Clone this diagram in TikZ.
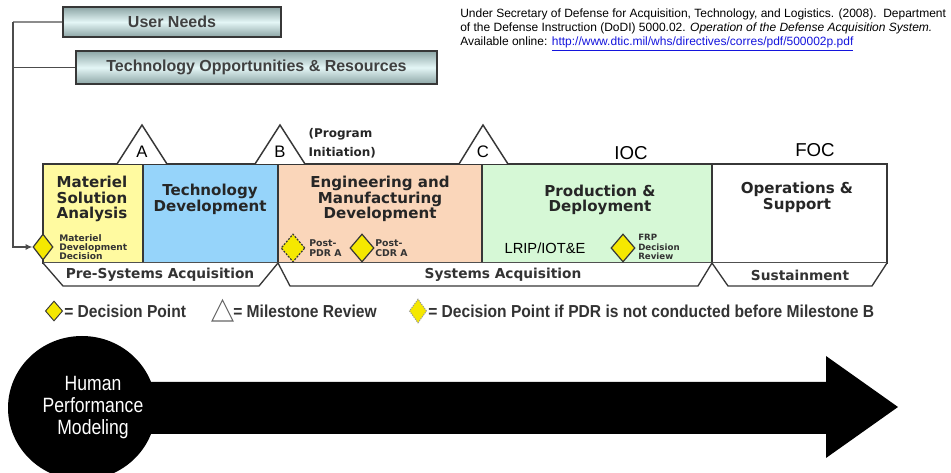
\documentclass[tikz,border=0pt]{standalone}
\usepackage{fontspec}
\setmainfont{Liberation Sans}
\newfontfamily\phasefont{DejaVu Sans}
\newfontfamily\narrowsans{Liberation Sans}[FakeStretch=0.85]
\newfontfamily\keyfont{Liberation Sans}[FakeStretch=0.9]
\usetikzlibrary{arrows.meta,positioning,shapes.geometric,calc}

\definecolor{edgegray}{RGB}{55,55,55}
\definecolor{needsteal}{RGB}{140,165,165}
\definecolor{needslight}{RGB}{228,246,246}
\definecolor{msayellow}{RGB}{255,250,160}
\definecolor{tdblue}{RGB}{150,212,250}
\definecolor{emdpeach}{RGB}{250,214,186}
\definecolor{pdgreen}{RGB}{214,248,214}
\definecolor{dpyellow}{RGB}{245,232,0}
\definecolor{linkblue}{RGB}{20,20,220}

\begin{document}
\begin{tikzpicture}[x=0.75pt, y=-0.75pt,
  needbox/.style={draw=edgegray, line width=1.5pt, top color=needsteal, bottom color=needsteal,
    middle color=needslight, font=\bfseries\fontsize{12}{14}\selectfont, text=black!75, inner sep=0pt},
  phase/.style={draw=edgegray, line width=1.2pt},
  phasetext/.style={font=\phasefont\bfseries\fontsize{11.3}{11.8}\selectfont, text=black!85, align=center},
  era/.style={draw=edgegray, line width=1pt, fill=white},
  eratext/.style={font=\phasefont\bfseries\fontsize{10.3}{12}\selectfont, text=black!80},
  decision/.style={diamond, draw=edgegray, line width=0.9pt, fill=dpyellow, inner sep=0pt,
    minimum width=18pt, minimum height=21pt},
  note/.style={font=\phasefont\bfseries\fontsize{7}{7.5}\selectfont, text=black!80, align=left,
    anchor=west, inner sep=0pt},
  milestone/.style={draw=edgegray, line width=1.1pt, fill=white},
  mark label/.style={font=\fontsize{12.5}{14}\selectfont},
  keytext/.style={font=\keyfont\bfseries\fontsize{13}{15}\selectfont, text=black!80, inner sep=0pt},
  feed/.style={draw=black!70, line width=1pt},
]
\useasboundingbox (0,0) rectangle (951,473);

% Inputs feeding the first decision
\node[needbox, minimum width=163pt, minimum height=22.5pt] (needs) at (172,22) {User Needs};
\node[needbox, minimum width=271pt, minimum height=25pt] (techopp) at (256.5,67.5) {Technology Opportunities \& Resources};

% Reference
\node[anchor=north west, align=left, inner sep=0pt, font=\fontsize{9}{10.5}\selectfont] (cite) at (460,9)
  {Under Secretary of Defense for Acquisition, Technology, and Logistics. (2008).\ \ Department\\
   of the Defense Instruction (DoDI) 5000.02. \textit{Operation of the Defense Acquisition System.}\\
   Available online: \textcolor{linkblue}{\underline{http://www.dtic.mil/whs/directives/corres/pdf/500002p.pdf}}};

% Phases
\draw[phase, fill=msayellow] (43,164) rectangle (143,263);
\draw[phase, fill=tdblue] (143,164) rectangle (278,263);
\draw[phase, fill=emdpeach] (278,164) rectangle (482,263);
\draw[phase, fill=pdgreen] (482,164) rectangle (712,263);
\draw[phase, fill=white] (712,164) rectangle (887,263);
\draw[edgegray, line width=2pt] (712,263) -- (887,263);

\node[phasetext] (msa) at (92,199) {Materiel\\Solution\\Analysis};
\node[phasetext] (td) at (210,199) {Technology\\Development};
\node[phasetext] (emd) at (380,199) {Engineering and\\Manufacturing\\Development};
\node[phasetext] (pd) at (600,200) {Production \&\\Deployment};
\node[phasetext] (os) at (797,197) {Operations \&\\Support};

% Milestones
\draw[milestone] (117,164) -- (142,125) -- (167,164);
\draw[milestone] (255,164) -- (280,125) -- (305,164);
\draw[milestone] (459,164) -- (483,125) -- (508,164);
\node[mark label] (msA) at (142,152) {A};
\node[mark label] (msB) at (280,152) {B};
\node[mark label] (msC) at (483,152) {C};
\node[phasetext, font=\phasefont\bfseries\fontsize{9}{14}\selectfont, align=left, anchor=west] (init) at (304,143) {(Program\\Initiation)};
\node[font=\fontsize{14}{16}\selectfont] (ioc) at (631,153) {IOC};
\node[font=\fontsize{14}{16}\selectfont] (foc) at (815,150) {FOC};

% Acquisition eras
\draw[era] (43,263) -- (63,286) -- (259,286) -- (278,263);
\draw[era] (278,263) -- (290,286) -- (698,286) -- (712,263);
\draw[era] (712,263) -- (728,286) -- (872,286) -- (887,263);
\node[eratext] (presys) at (160,275) {Pre-Systems Acquisition};
\node[eratext] (sysacq) at (503,275) {Systems Acquisition};
\node[eratext] (sustain) at (800,275) {Sustainment};

% Decision points
\node[decision, minimum width=15pt, minimum height=19.5pt] (mdd) at (43,247) {};
\node[note, font=\phasefont\bfseries\fontsize{6.8}{6.8}\selectfont] (mddnote) at (59,247) {Materiel\\Development\\Decision};
\node[decision, dash pattern=on 1.5pt off 1pt] (postpdr) at (293,248) {};
\node[note] (pdrnote) at (309,248) {Post-\\PDR A};
\node[decision] (postcdr) at (362,248) {};
\node[note] (cdrnote) at (375,248) {Post-\\CDR A};
\node[font=\fontsize{11}{13}\selectfont] (lrip) at (545,248) {LRIP/IOT\&E};
\node[decision] (frp) at (623,248) {};
\node[note, font=\phasefont\bfseries\fontsize{6.5}{7.2}\selectfont] (frpnote) at (638,247) {FRP\\Decision\\Review};

% Feed lines
\coordinate (rail) at (13,22);
\draw[feed, draw=black!45] (needs.west) -- (rail);
\draw[feed, -{Latex[length=5pt,width=4.5pt]}] (rail) |- (mdd.west);
\draw[feed] (techopp.west) -- (techopp.west -| rail);

% Key
\node[decision, line width=0.7pt, minimum width=13pt, minimum height=15pt] (keydp) at (54,311) {};
\node[keytext, anchor=west] (keydptext) at (64,311) {= Decision Point};
\draw[milestone, line width=0.8pt, draw=black!60] (212,321) -- (222.5,300) -- (233,321) -- cycle;
\node[keytext, anchor=west] (keymstext) at (233,311) {= Milestone Review};
\node[decision, line width=0.7pt, dash pattern=on 1pt off 0.8pt, draw=black!40, minimum width=13pt, minimum height=18pt] (keypdr) at (418,311) {};
\node[keytext, anchor=west] (keypdrtext) at (428,311) {= Decision Point if PDR is not conducted before Milestone B};

% Human performance modeling arrow
\node[ellipse, fill=black, inner sep=0pt, minimum width=111pt, minimum height=108pt] (hpmdisc) at (82,408) {};
\fill (140,382) -- (826,382) -- (826,356) -- (898,407) -- (826,458) -- (826,434) -- (140,434) -- cycle;
\node[font=\narrowsans\fontsize{15.5}{16.5}\selectfont, text=white, align=center] (hpm) at (93,408) {Human\\Performance\\Modeling};

\end{tikzpicture}
\end{document}
